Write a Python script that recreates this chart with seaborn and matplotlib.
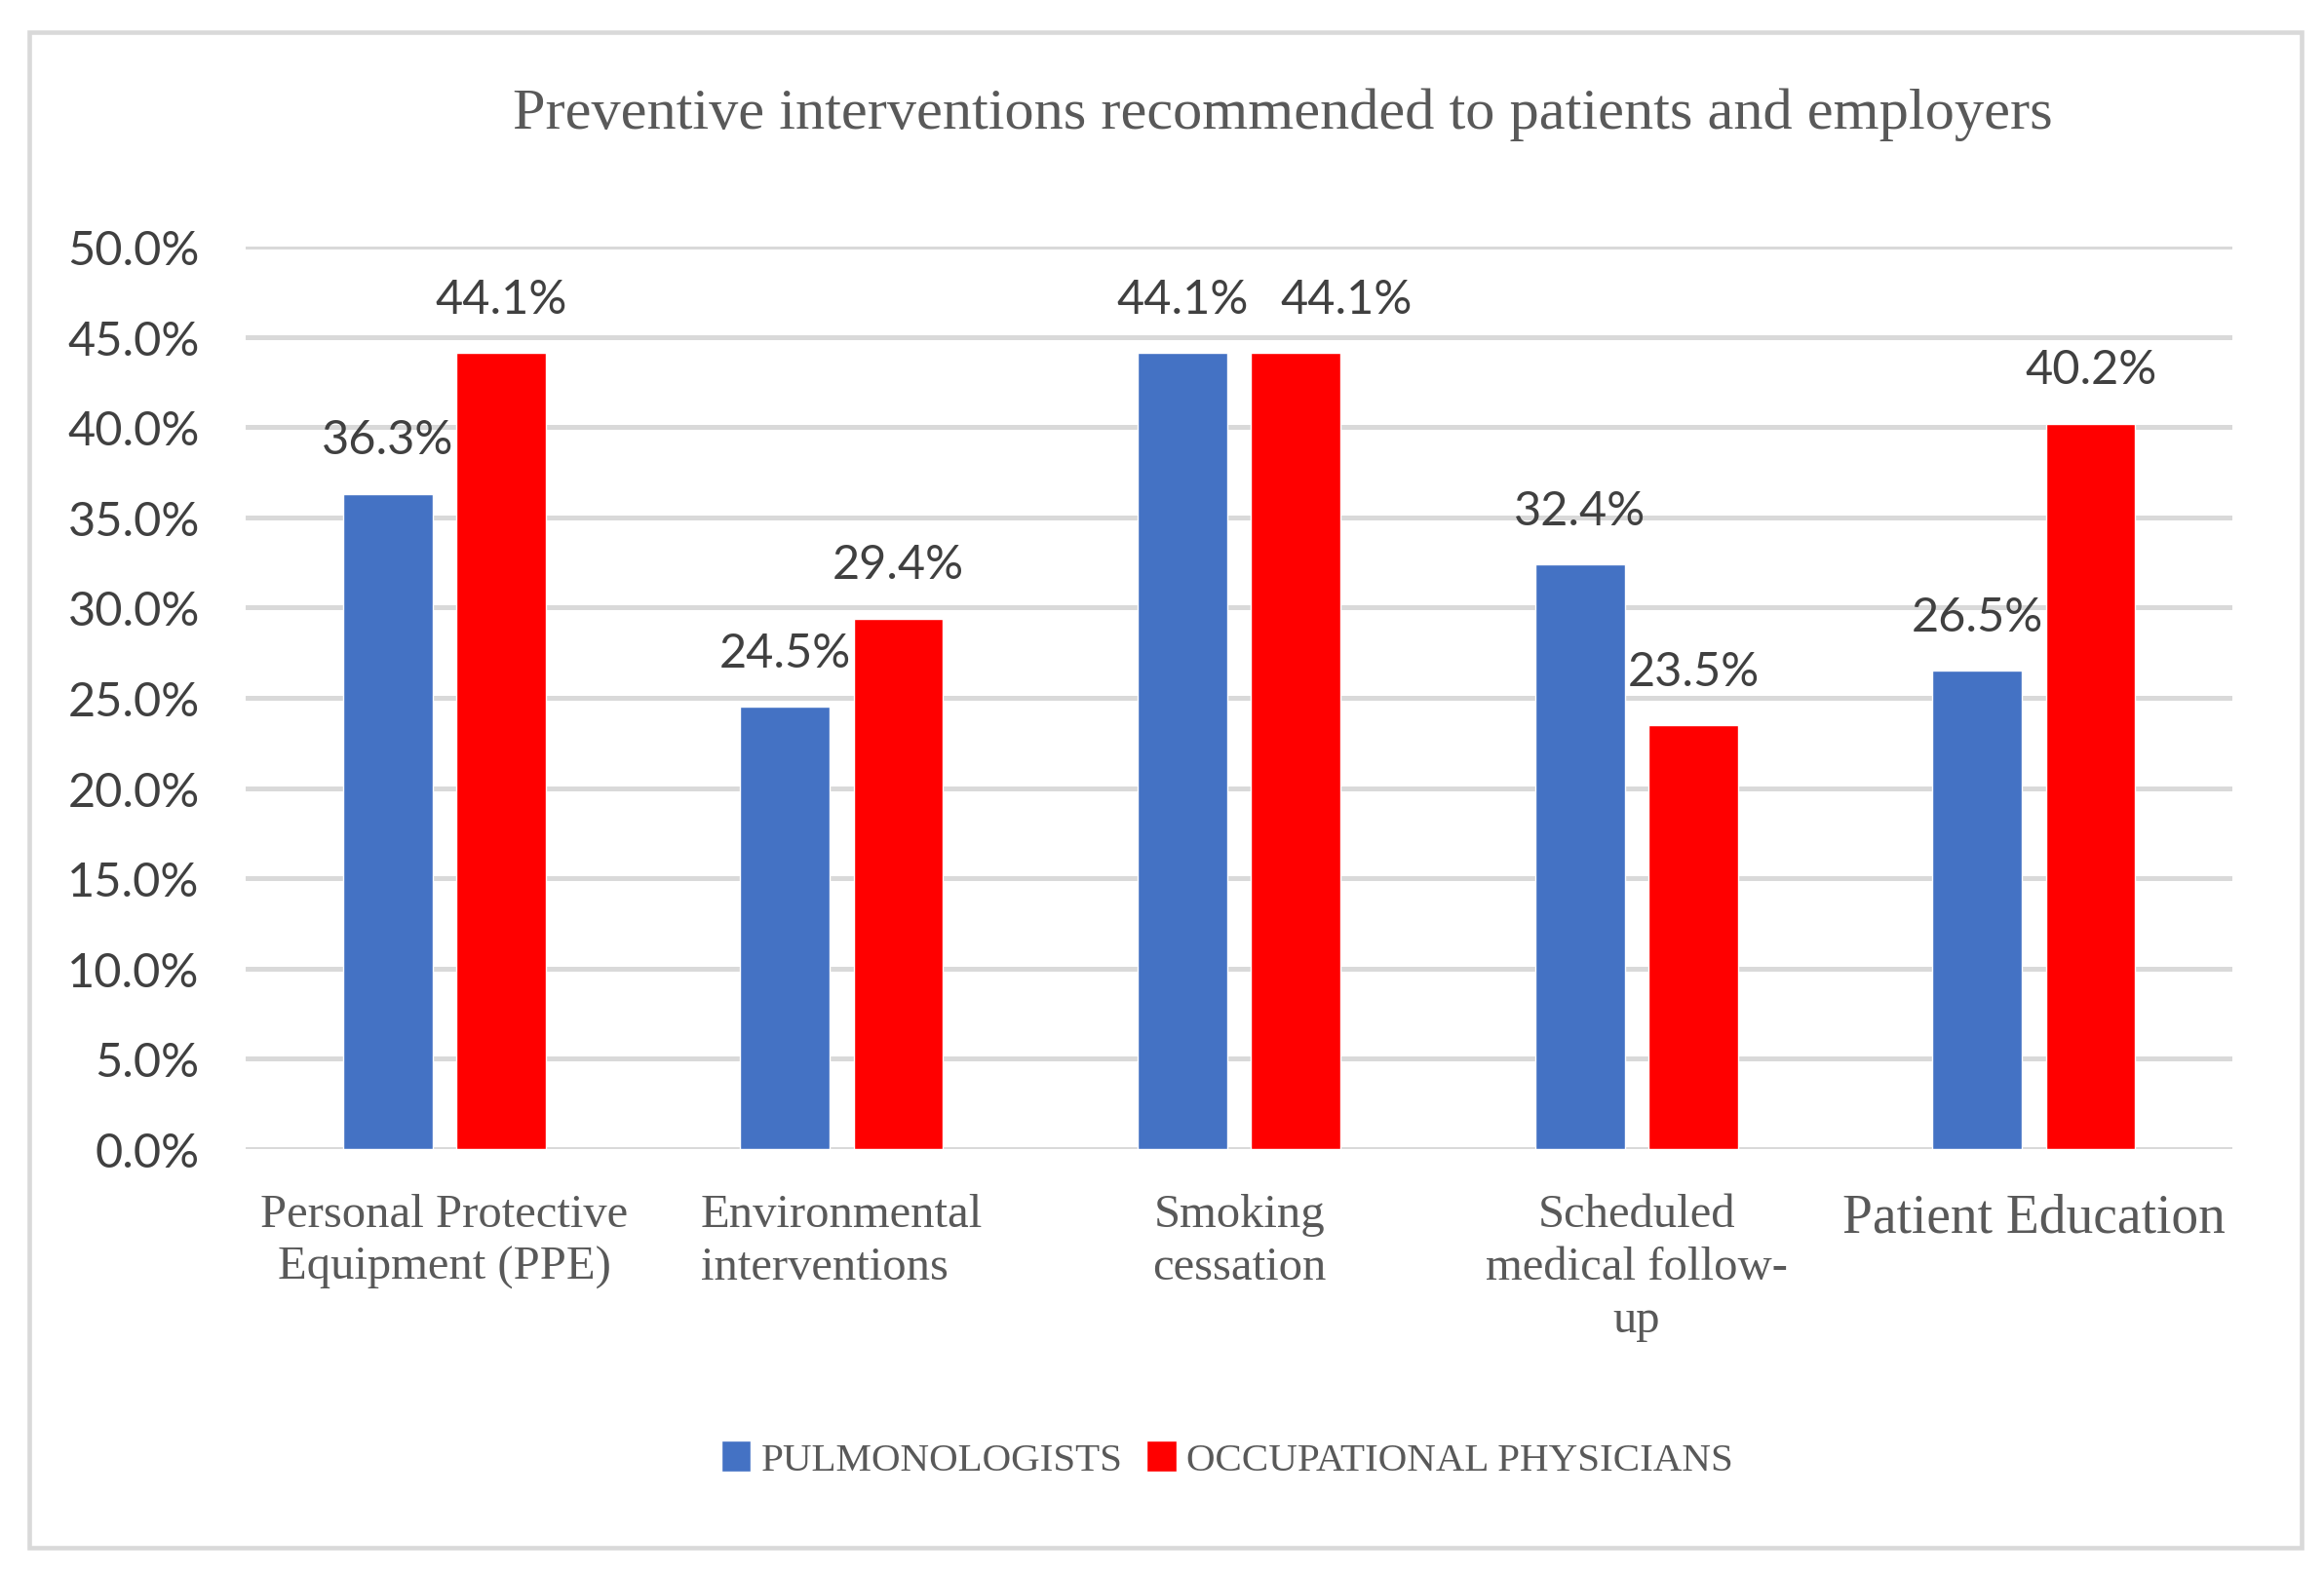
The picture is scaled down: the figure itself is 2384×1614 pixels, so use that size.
import pandas as pd
import matplotlib.pyplot as plt
import seaborn as sns
from matplotlib.patches import Rectangle

categories = ['Personal Protective\nEquipment (PPE)', 'Environmental\ninterventions',
              'Smoking\ncessation', 'Scheduled\nmedical follow-\nup', 'Patient Education']
groups = ['PULMONOLOGISTS', 'OCCUPATIONAL PHYSICIANS']
pulmonologists = [36.3, 24.5, 44.1, 32.4, 26.5]
occupational = [44.1, 29.4, 44.1, 23.5, 40.2]
yticks = [0, 5, 10, 15, 20, 25, 30, 35, 40, 45, 50]

df = pd.DataFrame({
    'category': categories * 2,
    'value': pulmonologists + occupational,
    'group': [groups[0]] * 5 + [groups[1]] * 5,
})

sns.set_style('white')
serif = 'Liberation Serif'
sans = 'Lato'

fig = plt.figure(figsize=(23.84, 16.15), dpi=100)
ax = fig.add_axes([0.1057, 0.2693, 0.855, 0.5734])

sns.barplot(data=df, x='category', y='value', hue='group', order=categories,
            hue_order=groups, palette=['#4472C4', '#FF0000'], width=0.57, gap=0.21,
            saturation=1, ax=ax, zorder=3)

ax.set_ylim(0, 50)
ax.set_xlim(-0.5, 4.5)
ax.set_yticks(yticks)
ax.set_yticklabels([f'{t:.1f}%' for t in yticks], fontfamily=sans, fontsize=35, color='#404040')
ax.yaxis.grid(True, color='#d9d9d9', linewidth=3.6, zorder=0)
ax.set_axisbelow(True)
ax.tick_params(axis='y', length=0, pad=34)
ax.tick_params(axis='x', length=0, pad=32)
ax.set_xticks(range(5))
ax.set_xticklabels(categories, fontfamily=serif, fontsize=35, color='#595959', linespacing=1.3)
ax.get_xticklabels()[4].set_fontsize(40)
ax.get_xticklabels()[1].set_multialignment('left')
ax.set_xlabel('')
ax.set_ylabel('')
for s in ax.spines.values():
    s.set_visible(False)

for i, cont in enumerate(ax.containers):
    anns = ax.bar_label(cont, labels=[f'{v:.1f}%' for v in cont.datavalues], padding=24,
                        fontfamily=sans, fontsize=35, color='#404040')
    if i == 1:
        # the two equal smoking labels sit apart, as in the original
        anns[2].xyann = (37, 24)

handles, labels = ax.get_legend_handles_labels()
ax.get_legend().remove()
fig.legend(handles, labels, loc='center', bbox_to_anchor=(0.528, 0.072), ncol=2,
           frameon=False, prop={'family': serif, 'size': 29.5}, labelcolor='#595959',
           handlelength=0.75, handleheight=0.8, handletextpad=0.25, columnspacing=0.6)

fig.text(0.552, 0.927, 'Preventive interventions recommended to patients and employers',
         ha='center', va='center', fontfamily=serif, fontsize=43.5, color='#595959')

fig.patches.append(Rectangle((0.0126, 0.0161), 0.9777, 0.9629, transform=fig.transFigure,
                             fill=False, edgecolor='#d9d9d9', linewidth=3.3))

fig.savefig('out.png', dpi=100, facecolor='white')
